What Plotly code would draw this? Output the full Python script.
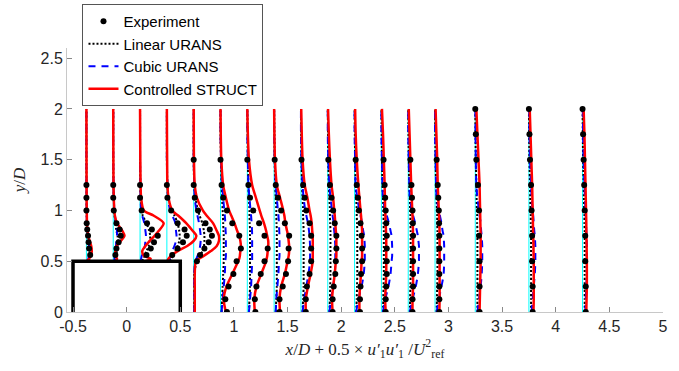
import plotly.graph_objects as go

N = None

# streamwise stations x/D
stations = [-0.375, -0.125, 0.125, 0.375, 0.625, 0.875, 1.125, 1.375, 1.625,
            1.875, 2.125, 2.375, 2.625, 2.875, 3.25, 3.75, 4.25]
base_y0 = [0.5, 0.5, 0.5, 0.5, 0, 0, 0, 0, 0, 0, 0, 0, 0, 0, 0, 0, 0]
base_y1 = [2.0] * 17

# obstacle outline
box_x = [-0.5, -0.5, 0.5, 0.5]
box_y = [0.0, 0.5, 0.5, 0.0]

# y/D sampling of the model profiles
y_model = [0, 0.125, 0.25, 0.375, 0.5, 0.525, 0.55, 0.6, 0.65, 0.7, 0.75, 0.8,
           0.875, 0.95, 1.0, 1.125, 1.25, 1.5, 1.75, 2.0]
# y/D sampling of the experiment
exp_y = [0, 0.125, 0.25, 0.375, 0.5, 0.5625, 0.625, 0.6875, 0.75, 0.8125, 0.875,
         1.0, 1.125, 1.25, 1.5, 1.75, 2.0]

# u'u'/U_ref^2 per station, Controlled STRUCT
struct_uu = [
    [N, N, N, N, 0.0, 0.05, 0.08, 0.10, 0.09, 0.06, 0.035, 0.02, 0.01, 0.008, 0.006, 0.004, 0.003, 0.002, 0.001, 0.0],
    [N, N, N, N, 0.05, 0.07, 0.04, 0.04, 0.06, 0.14, 0.21, 0.17, 0.07, 0.03, 0.02, 0.01, 0.005, 0.003, 0.001, 0.0],
    [N, N, N, N, 0.10, 0.20, 0.08, 0.04, 0.10, 0.18, 0.27, 0.35, 0.44, 0.25, 0.07, 0.02, 0.01, 0.005, 0.002, 0.0],
    [N, N, N, N, 0.01, 0.03, 0.07, 0.20, 0.38, 0.50, 0.55, 0.48, 0.36, 0.21, 0.10, 0.03, 0.01, 0.005, 0.002, 0.0],
    [0.02, 0.02, 0.02, 0.02, 0.04, 0.10, 0.18, 0.32, 0.43, 0.47, 0.47, 0.43, 0.36, 0.24, 0.17, 0.06, 0.02, 0.005, 0.002, 0.0],
    [0.10, 0.06, 0.11, 0.22, 0.33, 0.35, 0.36, 0.37, 0.38, 0.37, 0.35, 0.31, 0.26, 0.20, 0.16, 0.10, 0.05, 0.015, 0.005, 0.0],
    [0.14, 0.13, 0.17, 0.26, 0.35, 0.36, 0.37, 0.38, 0.39, 0.39, 0.37, 0.35, 0.31, 0.26, 0.23, 0.16, 0.09, 0.03, 0.01, 0.0],
    [0.11, 0.10, 0.13, 0.20, 0.25, 0.26, 0.27, 0.28, 0.28, 0.27, 0.26, 0.24, 0.21, 0.19, 0.17, 0.11, 0.05, 0.015, 0.005, 0.0],
    [0.09, 0.09, 0.13, 0.18, 0.22, 0.22, 0.22, 0.22, 0.22, 0.22, 0.22, 0.21, 0.20, 0.18, 0.16, 0.12, 0.07, 0.03, 0.015, 0.005],
    [0.09, 0.08, 0.10, 0.13, 0.15, 0.155, 0.16, 0.16, 0.16, 0.16, 0.16, 0.15, 0.14, 0.13, 0.12, 0.10, 0.07, 0.04, 0.02, 0.005],
    [0.09, 0.09, 0.10, 0.12, 0.13, 0.135, 0.14, 0.14, 0.14, 0.14, 0.14, 0.14, 0.13, 0.12, 0.11, 0.09, 0.07, 0.04, 0.02, 0.01],
    [0.08, 0.07, 0.08, 0.09, 0.09, 0.09, 0.09, 0.09, 0.09, 0.09, 0.09, 0.085, 0.08, 0.075, 0.07, 0.065, 0.06, 0.045, 0.03, 0.01],
    [0.08, 0.08, 0.09, 0.09, 0.09, 0.09, 0.09, 0.09, 0.09, 0.09, 0.09, 0.088, 0.085, 0.08, 0.075, 0.065, 0.055, 0.04, 0.025, 0.01],
    [0.08, 0.085, 0.085, 0.085, 0.085, 0.085, 0.085, 0.085, 0.085, 0.085, 0.085, 0.083, 0.08, 0.075, 0.07, 0.06, 0.05, 0.04, 0.025, 0.01],
    [0.08, 0.085, 0.09, 0.095, 0.10, 0.10, 0.10, 0.10, 0.10, 0.10, 0.10, 0.098, 0.095, 0.092, 0.09, 0.085, 0.08, 0.06, 0.04, 0.02],
    [0.085, 0.09, 0.09, 0.09, 0.09, 0.09, 0.088, 0.086, 0.085, 0.083, 0.08, 0.078, 0.075, 0.072, 0.07, 0.065, 0.06, 0.045, 0.03, 0.015],
    [0.07, 0.075, 0.08, 0.08, 0.08, 0.08, 0.078, 0.077, 0.076, 0.074, 0.072, 0.071, 0.07, 0.067, 0.065, 0.06, 0.055, 0.045, 0.035, 0.02],
]

# Cubic URANS
cubic_uu = [
    [N, N, N, N, 0.02, 0.035, 0.045, 0.05, 0.05, 0.045, 0.03, 0.02, 0.01, 0.006, 0.005, 0.003, 0.002, 0.0, 0.0, 0.0],
    [N, N, N, N, 0.02, 0.025, 0.03, 0.04, 0.05, 0.06, 0.07, 0.07, 0.05, 0.03, 0.02, 0.01, 0.005, 0.0, 0.0, 0.0],
    [N, N, N, N, 0.01, 0.02, 0.03, 0.06, 0.09, 0.10, 0.11, 0.10, 0.08, 0.04, 0.02, 0.01, 0.005, 0.0, 0.0, 0.0],
    [N, N, N, N, 0.03, 0.05, 0.07, 0.10, 0.14, 0.17, 0.18, 0.17, 0.16, 0.10, 0.06, 0.02, 0.01, 0.0, 0.0, 0.0],
    [0.01, 0.01, 0.01, 0.01, 0.03, 0.05, 0.07, 0.10, 0.12, 0.13, 0.13, 0.12, 0.10, 0.07, 0.05, 0.02, 0.01, 0.0, 0.0, 0.0],
    [0.02, 0.04, 0.06, 0.08, 0.09, 0.095, 0.10, 0.10, 0.10, 0.10, 0.10, 0.095, 0.09, 0.08, 0.07, 0.05, 0.03, 0.01, 0.0, 0.0],
    [0.03, 0.05, 0.07, 0.08, 0.09, 0.09, 0.09, 0.09, 0.09, 0.09, 0.09, 0.088, 0.08, 0.07, 0.06, 0.04, 0.02, 0.01, 0.0, 0.0],
    [0.03, 0.04, 0.06, 0.08, 0.09, 0.095, 0.10, 0.10, 0.10, 0.10, 0.10, 0.095, 0.09, 0.08, 0.07, 0.05, 0.03, 0.01, 0.0, 0.0],
    [0.03, 0.06, 0.10, 0.14, 0.17, 0.17, 0.17, 0.17, 0.17, 0.165, 0.16, 0.15, 0.13, 0.10, 0.08, 0.05, 0.03, 0.01, 0.0, 0.0],
    [0.03, 0.06, 0.10, 0.13, 0.14, 0.14, 0.14, 0.14, 0.14, 0.135, 0.13, 0.12, 0.11, 0.09, 0.08, 0.05, 0.03, 0.01, 0.0, 0.0],
    [0.03, 0.07, 0.13, 0.17, 0.19, 0.19, 0.19, 0.19, 0.19, 0.185, 0.18, 0.16, 0.14, 0.11, 0.09, 0.05, 0.02, 0.01, 0.0, 0.0],
    [0.03, 0.07, 0.13, 0.17, 0.19, 0.195, 0.20, 0.20, 0.20, 0.195, 0.19, 0.17, 0.14, 0.10, 0.07, 0.03, 0.02, 0.01, 0.0, 0.0],
    [0.03, 0.08, 0.14, 0.18, 0.20, 0.20, 0.20, 0.20, 0.20, 0.19, 0.18, 0.16, 0.13, 0.09, 0.07, 0.03, 0.02, 0.01, 0.0, 0.0],
    [0.03, 0.07, 0.12, 0.16, 0.17, 0.17, 0.17, 0.17, 0.17, 0.165, 0.16, 0.14, 0.12, 0.09, 0.07, 0.03, 0.02, 0.01, 0.0, 0.0],
    [0.04, 0.07, 0.10, 0.12, 0.13, 0.13, 0.13, 0.13, 0.13, 0.125, 0.12, 0.11, 0.10, 0.08, 0.07, 0.04, 0.02, 0.01, 0.005, 0.0],
    [0.05, 0.07, 0.09, 0.11, 0.12, 0.12, 0.12, 0.12, 0.12, 0.115, 0.11, 0.10, 0.09, 0.08, 0.07, 0.05, 0.04, 0.02, 0.01, 0.005],
    [0.05, 0.06, 0.07, 0.08, 0.08, 0.08, 0.08, 0.08, 0.08, 0.078, 0.075, 0.07, 0.065, 0.06, 0.055, 0.045, 0.035, 0.02, 0.01, 0.005],
]

# Linear URANS
linear_uu = [
    [N, N, N, N, 0.05, 0.055, 0.06, 0.06, 0.05, 0.04, 0.03, 0.02, 0.01, 0.006, 0.004, 0.002, 0.001, 0.0, 0.0, 0.0],
    [N, N, N, N, 0.03, 0.04, 0.05, 0.07, 0.08, 0.09, 0.08, 0.06, 0.04, 0.025, 0.02, 0.01, 0.005, 0.0, 0.0, 0.0],
    [N, N, N, N, 0.04, 0.06, 0.08, 0.12, 0.16, 0.18, 0.19, 0.17, 0.12, 0.05, 0.03, 0.01, 0.005, 0.0, 0.0, 0.0],
    [N, N, N, N, 0.05, 0.08, 0.11, 0.15, 0.20, 0.23, 0.24, 0.23, 0.20, 0.14, 0.09, 0.03, 0.01, 0.0, 0.0, 0.0],
    [0.01, 0.01, 0.01, 0.01, 0.06, 0.09, 0.12, 0.16, 0.19, 0.20, 0.20, 0.19, 0.16, 0.11, 0.08, 0.03, 0.01, 0.0, 0.0, 0.0],
    [0.02, 0.03, 0.04, 0.05, 0.06, 0.06, 0.06, 0.06, 0.06, 0.06, 0.06, 0.055, 0.05, 0.045, 0.04, 0.03, 0.02, 0.01, 0.0, 0.0],
    [0.03, 0.04, 0.05, 0.05, 0.05, 0.05, 0.05, 0.05, 0.05, 0.05, 0.05, 0.05, 0.045, 0.04, 0.04, 0.03, 0.02, 0.01, 0.005, 0.0],
    [0.03, 0.04, 0.05, 0.05, 0.05, 0.05, 0.05, 0.05, 0.05, 0.05, 0.05, 0.05, 0.045, 0.04, 0.04, 0.03, 0.02, 0.01, 0.005, 0.0],
    [0.03, 0.04, 0.05, 0.05, 0.05, 0.05, 0.05, 0.05, 0.05, 0.05, 0.05, 0.05, 0.045, 0.04, 0.04, 0.03, 0.02, 0.01, 0.005, 0.0],
    [0.03, 0.04, 0.045, 0.05, 0.05, 0.05, 0.05, 0.05, 0.05, 0.05, 0.05, 0.05, 0.045, 0.04, 0.04, 0.03, 0.02, 0.01, 0.005, 0.0],
    [0.03, 0.04, 0.045, 0.05, 0.05, 0.05, 0.05, 0.05, 0.05, 0.05, 0.05, 0.05, 0.045, 0.04, 0.04, 0.03, 0.02, 0.01, 0.005, 0.0],
    [0.03, 0.035, 0.04, 0.045, 0.045, 0.045, 0.045, 0.045, 0.045, 0.045, 0.045, 0.045, 0.04, 0.04, 0.035, 0.03, 0.02, 0.01, 0.005, 0.0],
    [0.03, 0.035, 0.04, 0.045, 0.045, 0.045, 0.045, 0.045, 0.045, 0.045, 0.045, 0.045, 0.04, 0.04, 0.035, 0.03, 0.02, 0.01, 0.005, 0.0],
    [0.03, 0.035, 0.04, 0.045, 0.045, 0.045, 0.045, 0.045, 0.045, 0.045, 0.045, 0.045, 0.04, 0.04, 0.035, 0.03, 0.02, 0.01, 0.005, 0.0],
    [0.04, 0.04, 0.04, 0.04, 0.04, 0.04, 0.04, 0.04, 0.04, 0.04, 0.04, 0.04, 0.035, 0.035, 0.03, 0.025, 0.02, 0.01, 0.005, 0.0],
    [0.04, 0.04, 0.04, 0.04, 0.04, 0.04, 0.04, 0.04, 0.04, 0.04, 0.04, 0.04, 0.035, 0.035, 0.03, 0.025, 0.02, 0.01, 0.005, 0.0],
    [0.04, 0.04, 0.04, 0.04, 0.04, 0.04, 0.04, 0.04, 0.04, 0.04, 0.04, 0.04, 0.035, 0.035, 0.03, 0.025, 0.02, 0.01, 0.005, 0.0],
]

# Experiment
exp_uu = [
    [N, N, N, N, N, 0.07, 0.05, 0.04, 0.03, 0.015, 0.005, 0.0, 0.0, 0.0, N, N, N],
    [N, N, N, N, N, 0.04, 0.06, 0.10, 0.14, 0.12, 0.06, 0.01, 0.0, 0.0, N, N, N],
    [N, N, N, N, N, 0.12, 0.20, 0.26, 0.33, 0.22, 0.13, 0.03, 0.0, 0.0, N, N, N],
    [N, N, N, N, N, 0.10, 0.20, 0.30, 0.37, 0.33, 0.20, 0.08, 0.01, 0.0, N, N, N],
    [N, N, N, N, 0.06, 0.12, 0.20, 0.28, 0.34, 0.30, 0.22, 0.08, 0.02, 0.0, 0.0, N, N],
    [0.12, 0.09, 0.15, 0.24, 0.30, N, 0.38, N, 0.35, N, 0.22, 0.12, 0.05, 0.02, 0.0, N, N],
    [0.15, 0.14, 0.17, 0.25, 0.32, N, 0.38, N, 0.32, N, 0.22, 0.11, 0.05, 0.02, 0.0, N, N],
    [0.10, 0.10, 0.16, 0.22, 0.26, N, 0.27, N, 0.28, N, 0.20, 0.13, 0.07, 0.03, 0.01, N, N],
    [0.09, 0.09, 0.11, 0.16, 0.19, N, 0.19, N, 0.19, N, 0.16, 0.10, 0.07, 0.04, 0.01, N, N],
    [0.09, 0.09, 0.11, 0.14, 0.15, N, 0.16, N, 0.16, N, 0.13, 0.10, 0.07, 0.04, 0.01, N, N],
    [0.10, 0.10, 0.11, 0.12, 0.14, N, 0.14, N, 0.13, N, 0.11, 0.08, 0.06, 0.04, 0.02, N, N],
    [0.08, 0.08, 0.09, 0.10, 0.10, N, 0.10, N, 0.10, N, 0.09, 0.08, 0.07, 0.06, 0.04, N, N],
    [0.08, 0.08, 0.09, 0.09, 0.09, N, 0.09, N, 0.09, N, 0.085, 0.08, 0.07, 0.06, 0.04, N, N],
    [0.08, 0.08, 0.08, 0.08, 0.08, N, 0.08, N, 0.08, N, 0.075, 0.07, 0.06, 0.05, 0.03, N, N],
    [0.08, N, 0.08, N, 0.08, N, N, N, 0.07, N, N, 0.07, N, 0.05, 0.02, 0.01, 0.0],
    [0.07, N, 0.07, N, 0.06, N, N, N, 0.06, N, N, 0.05, N, 0.04, 0.02, 0.01, 0.0],
    [0.06, N, 0.06, N, 0.05, N, N, N, 0.05, N, N, 0.04, N, 0.03, 0.02, 0.01, 0.0],
]

x_ticks = [-0.5, 0, 0.5, 1, 1.5, 2, 2.5, 3, 3.5, 4, 4.5, 5]
x_ticklabels = ["-0.5", "0", "0.5", "1", "1.5", "2", "2.5", "3", "3.5", "4", "4.5", "5"]
y_ticks = [0, 0.5, 1, 1.5, 2, 2.5]
y_ticklabels = ["0", "0.5", "1", "1.5", "2", "2.5"]


def profile_xy(rows, ys, gaps=True):
    xs, yv = [], []
    for s, row in zip(stations, rows):
        for y, u in zip(ys, row):
            if u is None:
                continue
            xs.append(s + 0.5 * u)
            yv.append(y)
        if gaps:
            xs.append(None)
            yv.append(None)
    return xs, yv


fig = go.Figure()

# baselines
bx, by = [], []
for s, a, b in zip(stations, base_y0, base_y1):
    bx += [s, s, None]
    by += [a, b, None]
fig.add_trace(go.Scatter(x=bx, y=by, mode="lines", line=dict(color="#00FFFF", width=1),
                         showlegend=False, hoverinfo="skip"))

lx, ly = profile_xy(linear_uu, y_model)
cx, cy = profile_xy(cubic_uu, y_model)
sx, sy = profile_xy(struct_uu, y_model)
ex, ey = profile_xy(exp_uu, exp_y, gaps=False)

fig.add_trace(go.Scatter(x=lx, y=ly, mode="lines", name="Linear URANS", legendrank=2,
                         line=dict(color="black", width=2, dash="2px,2px", shape="spline", smoothing=0.8)))
fig.add_trace(go.Scatter(x=cx, y=cy, mode="lines", name="Cubic URANS", legendrank=3,
                         line=dict(color="#0000FF", width=2, dash="7px,6px", shape="spline", smoothing=0.8)))
fig.add_trace(go.Scatter(x=sx, y=sy, mode="lines", name="Controlled STRUCT", legendrank=4,
                         line=dict(color="#FF0000", width=2.5, shape="spline", smoothing=0.8)))
fig.add_trace(go.Scatter(x=ex, y=ey, mode="markers", name="Experiment", legendrank=1,
                         marker=dict(color="black", size=6)))

fig.add_trace(go.Scatter(x=box_x, y=box_y, mode="lines", line=dict(color="black", width=3.5),
                         showlegend=False, hoverinfo="skip"))

axis_font = dict(family="Liberation Sans, Arial, sans-serif", size=16, color="#262626")
title_font = dict(family="Liberation Serif, Times New Roman, serif", size=17, color="#262626")

fig.update_layout(
    width=679, height=371,
    margin=dict(l=67, r=16, t=48, b=59, autoexpand=False),
    paper_bgcolor="white", plot_bgcolor="white",
    showlegend=True,
    legend=dict(x=0.026, y=1.167, xanchor="left", yanchor="top",
                bgcolor="white", bordercolor="#555555", borderwidth=1,
                font=dict(family="Liberation Sans, Arial, sans-serif", size=15, color="black"),
                tracegroupgap=0, itemwidth=30),
    xaxis=dict(range=[-0.556, 5], tickvals=x_ticks, ticktext=x_ticklabels,
               ticks="inside", ticklen=5, tickcolor="#888888", showline=True,
               linecolor="#c8c8c8", linewidth=1, showgrid=False, zeroline=False,
               tickfont=axis_font,
               title=dict(text="<i>x</i>/<i>D</i> + 0.5 × <i>u′</i><sub>1</sub><i>u′</i><sub>1</sub> /<i>U</i><sup>2</sup><sub>ref</sub>",
                          font=title_font, standoff=8)),
    yaxis=dict(range=[0, 2.6], tickvals=y_ticks, ticktext=y_ticklabels,
               ticks="inside", ticklen=5, tickcolor="#888888", showline=True,
               linecolor="#c8c8c8", linewidth=1, showgrid=False, zeroline=False,
               tickfont=axis_font,
               title=dict(text="<i>y</i>/<i>D</i>", font=title_font, standoff=10)),
)

fig.write_html("out.html")
